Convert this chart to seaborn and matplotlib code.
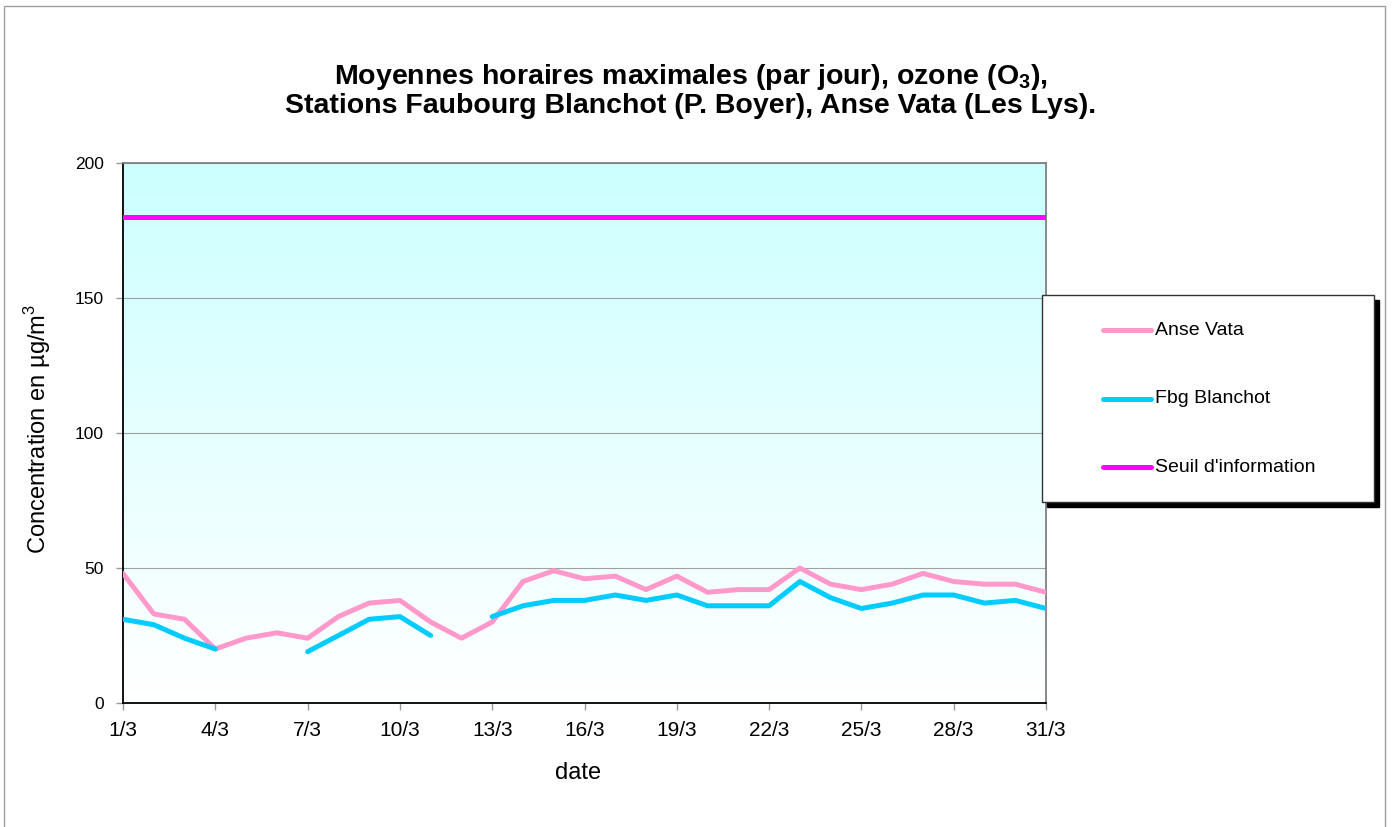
import seaborn as sns
import matplotlib.pyplot as plt
import matplotlib.patches as mpatches
from matplotlib.lines import Line2D
import pandas as pd
import numpy as np

days = list(range(1, 32))
anse_vata = [48, 33, 31, 20, 24, 26, 24, 32, 37, 38, 30, 24, 30, 45, 49, 46,
             47, 42, 47, 41, 42, 42, 50, 44, 42, 44, 48, 45, 44, 44, 41]
fbg_blanchot = [31, 29, 24, 20, None, None, 19, 25, 31, 32, 25, None, 32, 36, 38, 38,
                40, 38, 40, 36, 36, 36, 45, 39, 35, 37, 40, 40, 37, 38, 35]
seuil = 180
tick_days = list(range(1, 32, 3))
tick_labels = [f'{d}/3' for d in tick_days]

series_names = ['Anse Vata', 'Fbg Blanchot', "Seuil d'information"]
colors = ['#ff99cc', '#00ccff', '#ff00ff']

# long table, gaps split into segments so lines break on missing days
rows = []
for name, vals in [('Anse Vata', anse_vata), ('Fbg Blanchot', fbg_blanchot),
                   ("Seuil d'information", [seuil] * len(days))]:
    seg = 0
    for d, v in zip(days, vals):
        if v is None:
            seg += 1
            continue
        rows.append({'day': d, 'value': v, 'series': name, 'seg': f'{name}_{seg}'})
df = pd.DataFrame(rows)

sns.set_theme(style='white', rc={'text.color': 'black', 'axes.labelcolor': 'black'})
plt.rcParams['font.family'] = ['Liberation Sans', 'DejaVu Sans']
plt.rcParams['mathtext.fontset'] = 'custom'
plt.rcParams['mathtext.rm'] = 'Liberation Sans'
plt.rcParams['mathtext.bf'] = 'Liberation Sans:bold'

W, H = 1396, 827
fig = plt.figure(figsize=(W / 100, H / 100), dpi=100)
fig.patch.set_facecolor('white')
ax = fig.add_axes([123 / W, 1 - 703 / H, (1046 - 123) / W, (703 - 163) / H])

# gradient background, cyan at top fading to white
grad = np.linspace(0, 1, 256).reshape(-1, 1)
top = np.array([0xcc, 0xff, 0xff]) / 255
img = top[None, None, :] * (1 - grad[:, :, None]) + np.ones(3)[None, None, :] * grad[:, :, None]
ax.imshow(img, extent=(1, 31, 0, 200), origin='upper', aspect='auto', zorder=0)

sns.lineplot(data=df, x='day', y='value', hue='series', units='seg', estimator=None,
             palette=dict(zip(series_names, colors)), linewidth=3.6, ax=ax,
             legend=False, zorder=3)

ax.set_xlim(1, 31)
ax.set_ylim(0, 200)
ax.set_xticks(tick_days)
ax.set_xticklabels(tick_labels)
ax.set_yticks([0, 50, 100, 150, 200])
ax.yaxis.grid(True, color='#a0a0a0', linewidth=0.8, zorder=1)
ax.tick_params(axis='both', direction='out', length=5, width=1, color='#999999',
               labelcolor='black', bottom=True, left=True)
ax.tick_params(axis='x', labelsize=15, pad=8)
ax.tick_params(axis='y', labelsize=12.5, pad=9)
for s in ['left', 'bottom']:
    ax.spines[s].set_color('black')
    ax.spines[s].set_linewidth(1.3)
for s in ['top', 'right']:
    ax.spines[s].set_color('#808080')
    ax.spines[s].set_linewidth(1.3)
ax.set_xlabel('date', fontsize=17, va='center')
ax.xaxis.set_label_coords((578 - 123) / 923, -(773 - 703) / 540)
ax.set_ylabel('Concentration en µg/m$^3$', fontsize=17, va='center')
ax.yaxis.set_label_coords(-(123 - 38) / 923, (703 - 429) / 540)

fig.text(0.495, 1 - 77 / H, r'Moyennes horaires maximales (par jour), ozone (O$_\mathbf{3}$),',
         ha='center', va='center', fontsize=20.5, fontweight='bold')
fig.text(0.495, 1 - 106 / H, 'Stations Faubourg Blanchot (P. Boyer), Anse Vata (Les Lys).',
         ha='center', va='center', fontsize=20.5, fontweight='bold')

# legend box with black shadow
lx0, ly0, lx1, ly1 = 1042, 295, 1374, 502
fig.patches.append(mpatches.Rectangle((lx0 / W + 5 / W, 1 - (ly1 + 5) / H), (lx1 - lx0) / W,
                                      (ly1 - ly0) / H, transform=fig.transFigure,
                                      facecolor='black', edgecolor='black'))
fig.patches.append(mpatches.Rectangle((lx0 / W, 1 - ly1 / H), (lx1 - lx0) / W, (ly1 - ly0) / H,
                                      transform=fig.transFigure, facecolor='white',
                                      edgecolor='#333333', linewidth=1))
for i, (name, c) in enumerate(zip(series_names, colors)):
    yy = 1 - (330 + i * 68.5) / H
    fig.add_artist(Line2D([1103 / W, 1151 / W], [yy, yy], color=c, linewidth=3.6,
                          solid_capstyle='round', transform=fig.transFigure))
    fig.text(1155 / W, yy, name, ha='left', va='center', fontsize=14)

# outer chart border
fig.patches.append(mpatches.Rectangle((4 / W, -0.01), (1385 - 4) / W, 1 - 6 / H + 0.01,
                                      transform=fig.transFigure, facecolor='none',
                                      edgecolor='#a0a0a0', linewidth=1))

fig.savefig('out.png', dpi=100)
